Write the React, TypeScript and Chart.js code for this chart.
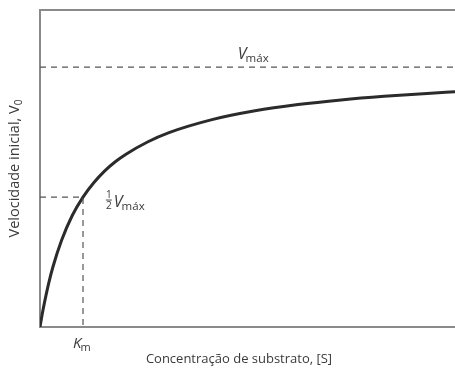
import React, { useEffect, useRef } from "react";
import { Chart, registerables } from "chart.js";

Chart.register(...registerables);

// Michaelis–Menten saturation curve, [S] in units of Km, V0 in units of Vmax
const substrate = [0, 0.05, 0.1, 0.2, 0.3, 0.5, 0.75, 1, 1.25, 1.5, 1.75, 2, 2.5, 3, 4, 5, 6, 7, 8, 9, 9.65];
const velocity = [0, 0.048, 0.091, 0.167, 0.231, 0.333, 0.429, 0.5, 0.555, 0.6, 0.636, 0.665, 0.712, 0.748, 0.798, 0.832, 0.856, 0.874, 0.888, 0.899, 0.905];

const vmax = 1;
const halfVmax = 0.5;
const km = 1;
const xMax = 9.65;
const yMax = 1.22;

const xTitle = "Concentração de substrato, [S]";
const yTitle = "Velocidade inicial, V";
const yTitleSub = "0";
const vLabel = "V";
const vLabelSub = "máx";
const kLabel = "K";
const kLabelSub = "m";

const FONT = '"Open Sans", "Noto Sans", sans-serif';
const TEXT = "#3a3a3a";

const annotations = {
  id: "annotations",
  beforeDatasetsDraw(chart: any) {
    const { ctx, chartArea: a } = chart;
    ctx.save();
    ctx.strokeStyle = "#8a8a8a";
    ctx.lineWidth = 2;
    ctx.beginPath();
    ctx.moveTo(a.right + 5, a.top);
    ctx.lineTo(a.left, a.top);
    ctx.lineTo(a.left, a.bottom);
    ctx.lineTo(a.right + 5, a.bottom);
    ctx.stroke();
    ctx.restore();
  },
  afterDraw(chart: any) {
    const { ctx, chartArea: a, scales } = chart;
    const xs = scales.x;
    const ys = scales.y;
    ctx.save();
    ctx.fillStyle = TEXT;
    ctx.textBaseline = "alphabetic";

    // V with subscript
    const drawV = (x: number, y: number) => {
      ctx.font = `italic 16px ${FONT}`;
      ctx.textAlign = "left";
      ctx.fillText(vLabel, x, y);
      const w = ctx.measureText(vLabel).width;
      ctx.font = `11.5px ${FONT}`;
      ctx.fillText(vLabelSub, x + w - 1, y + 3);
    };

    // Vmáx label above the dashed asymptote
    drawV(xs.getPixelForValue(4.6), ys.getPixelForValue(vmax) - 8);

    // ½ Vmáx label
    const hx = xs.getPixelForValue(1.6);
    const hy = ys.getPixelForValue(halfVmax) + 10;
    ctx.font = `10px ${FONT}`;
    ctx.textAlign = "center";
    ctx.fillText("1", hx, hy - 9);
    ctx.fillText("2", hx, hy + 2);
    ctx.fillRect(hx - 3, hy - 7.5, 6, 0.9);
    drawV(hx + 5, hy);

    // Km label below the x-axis
    const kx = xs.getPixelForValue(km);
    ctx.font = `italic 15px ${FONT}`;
    ctx.textAlign = "left";
    const kw = ctx.measureText(kLabel).width;
    ctx.fillText(kLabel, kx - 10, a.bottom + 21);
    ctx.font = `11px ${FONT}`;
    ctx.fillText(kLabelSub, kx - 10 + kw - 1, a.bottom + 24);

    // x-axis title
    ctx.font = `13px ${FONT}`;
    ctx.textAlign = "center";
    ctx.fillText(xTitle, 239, a.bottom + 36);

    // y-axis title, rotated
    ctx.translate(19, ys.getPixelForValue(0.61));
    ctx.rotate(-Math.PI / 2);
    ctx.font = `14.5px ${FONT}`;
    const tw = ctx.measureText(yTitle).width;
    ctx.font = `10px ${FONT}`;
    const sw = ctx.measureText(yTitleSub).width;
    const start = -(tw + sw) / 2;
    ctx.font = `14.5px ${FONT}`;
    ctx.textAlign = "left";
    ctx.fillText(yTitle, start, 0);
    ctx.font = `10px ${FONT}`;
    ctx.fillText(yTitleSub, start + tw, 3);
    ctx.restore();
  },
};

export default function App() {
  const ref = useRef<HTMLCanvasElement>(null);

  useEffect(() => {
    document.body.style.margin = "0";
    const dashColor = "#555555";
    const chart = new Chart(ref.current!, {
      type: "scatter",
      data: {
        datasets: [
          {
            label: "Vmax",
            data: [
              { x: 0, y: vmax },
              { x: xMax, y: vmax },
            ],
            showLine: true,
            borderColor: dashColor,
            borderWidth: 1.2,
            borderDash: [6, 5],
            pointRadius: 0,
          },
          {
            label: "Km",
            data: [
              { x: 0, y: halfVmax },
              { x: km, y: halfVmax },
              { x: km, y: 0 },
            ],
            showLine: true,
            borderColor: dashColor,
            borderWidth: 1.2,
            borderDash: [6, 5],
            pointRadius: 0,
          },
          {
            label: "V0",
            data: substrate.map((s, i) => ({ x: s, y: velocity[i] })),
            showLine: true,
            borderColor: "#2b2b2b",
            borderWidth: 3,
            pointRadius: 0,
            cubicInterpolationMode: "monotone",
          },
        ],
      },
      options: {
        animation: false,
        responsive: false,
        layout: { padding: { left: 40, top: 10, right: 0, bottom: 52 } },
        plugins: { legend: { display: false }, tooltip: { enabled: false } },
        scales: {
          x: { type: "linear", min: 0, max: xMax, display: false },
          y: { type: "linear", min: 0, max: yMax, display: false },
        },
      },
      plugins: [annotations],
    });
    return () => chart.destroy();
  }, []);

  return (
    <div style={{ position: "absolute", left: 0, top: 0, width: 455, height: 379, background: "#fff" }}>
      <canvas ref={ref} width={455} height={379} />
    </div>
  );
}
